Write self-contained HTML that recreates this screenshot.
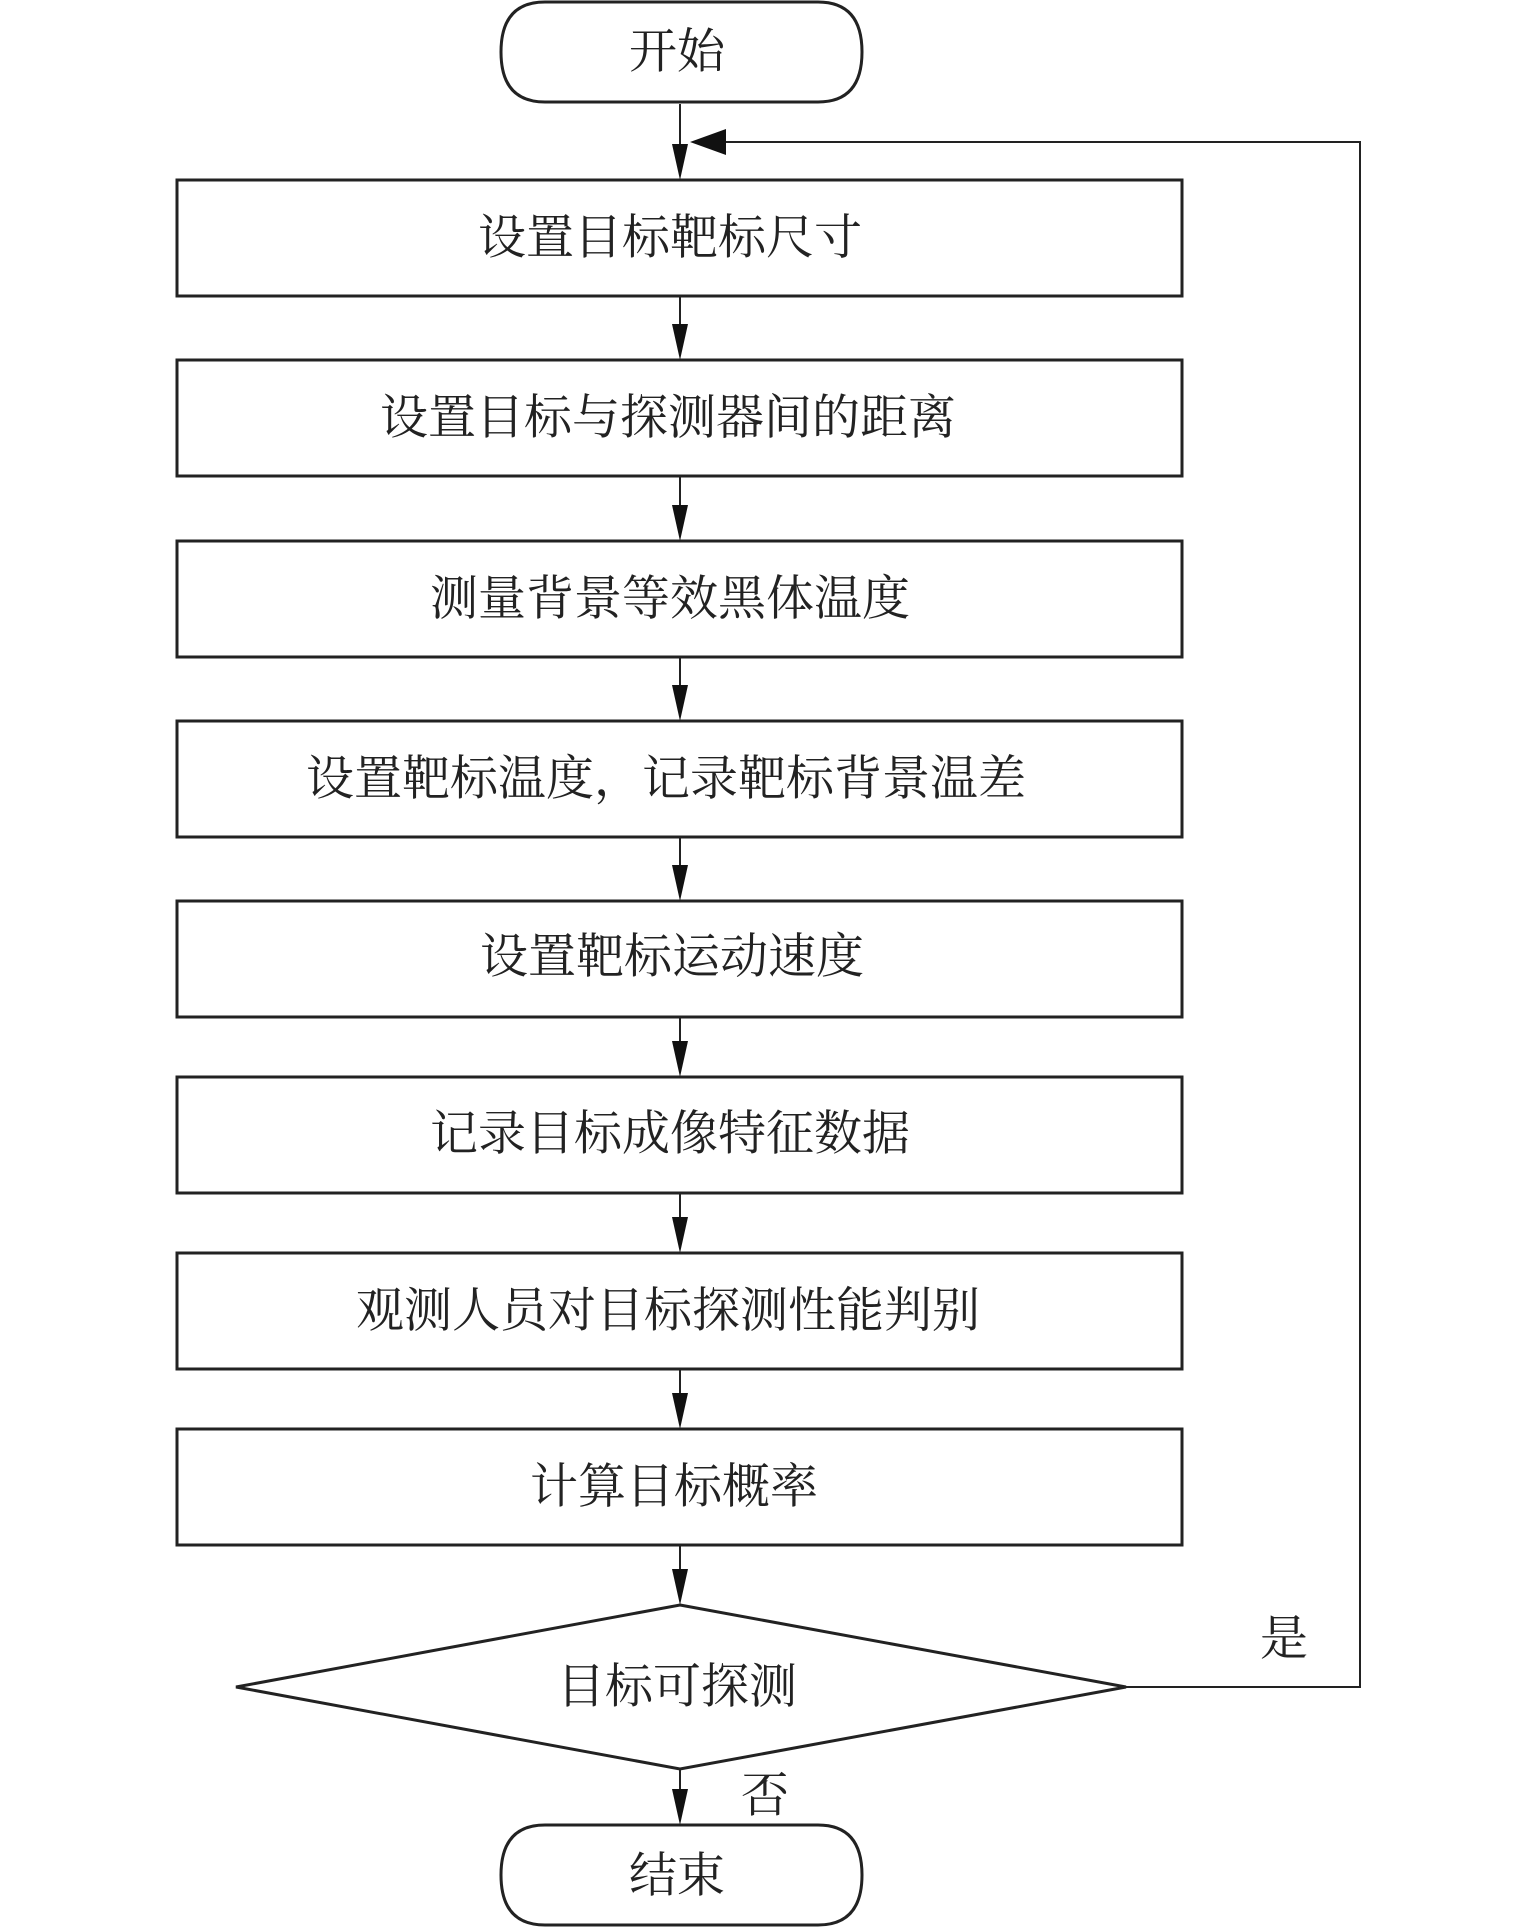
<!DOCTYPE html>
<html><head><meta charset="utf-8"><style>
html,body{margin:0;padding:0;background:#fff;}
svg{display:block;}
text{font-family:"Liberation Serif","Noto Serif CJK SC","Noto Sans CJK SC",serif;font-size:48px;fill:#222;text-anchor:middle;dominant-baseline:central;}
</style></head><body>
<svg width="1535" height="1927" viewBox="0 0 1535 1927" xmlns="http://www.w3.org/2000/svg">
<g stroke="#222" fill="none">
<path d="M545,2 H818 Q862,2 862,52 Q862,102 818,102 H545 Q501,102 501,52 Q501,2 545,2 Z" stroke-width="3"/>
<path d="M545,1825 H818 Q862,1825 862,1875 Q862,1925 818,1925 H545 Q501,1925 501,1875 Q501,1825 545,1825 Z" stroke-width="3"/>
<rect x="177" y="180" width="1005" height="116" stroke-width="3"/>
<rect x="177" y="360" width="1005" height="116" stroke-width="3"/>
<rect x="177" y="541" width="1005" height="116" stroke-width="3"/>
<rect x="177" y="721" width="1005" height="116" stroke-width="3"/>
<rect x="177" y="901" width="1005" height="116" stroke-width="3"/>
<rect x="177" y="1077" width="1005" height="116" stroke-width="3"/>
<rect x="177" y="1253" width="1005" height="116" stroke-width="3"/>
<rect x="177" y="1429" width="1005" height="116" stroke-width="3"/>
<polygon points="680,1605 1126,1687 680,1769 236,1687" stroke-width="3"/>
<g stroke-width="2">
<line x1="680" y1="104" x2="680" y2="160"/>
<line x1="680" y1="296" x2="680" y2="340"/>
<line x1="680" y1="476" x2="680" y2="521"/>
<line x1="680" y1="657" x2="680" y2="701"/>
<line x1="680" y1="837" x2="680" y2="881"/>
<line x1="680" y1="1017" x2="680" y2="1057"/>
<line x1="680" y1="1193" x2="680" y2="1233"/>
<line x1="680" y1="1369" x2="680" y2="1409"/>
<line x1="680" y1="1545" x2="680" y2="1585"/>
<line x1="680" y1="1769" x2="680" y2="1805"/>
<polyline points="1126,1687 1360,1687 1360,142 710,142"/>
</g>
</g>
<g fill="#111">
<polygon points="672,144 688,144 680,180"/>
<polygon points="672,324 688,324 680,360"/>
<polygon points="672,505 688,505 680,541"/>
<polygon points="672,685 688,685 680,721"/>
<polygon points="672,865 688,865 680,901"/>
<polygon points="672,1041 688,1041 680,1077"/>
<polygon points="672,1217 688,1217 680,1253"/>
<polygon points="672,1393 688,1393 680,1429"/>
<polygon points="672,1569 688,1569 680,1605"/>
<polygon points="672,1789 688,1789 680,1825"/>
<polygon points="726,129 726,155 690,142"/>
</g>
<text x="677" y="52">开始</text>
<text x="670" y="238">设置目标靶标尺寸</text>
<text x="668" y="418">设置目标与探测器间的距离</text>
<text x="670" y="599">测量背景等效黑体温度</text>
<text x="666" y="779">设置靶标温度，记录靶标背景温差</text>
<text x="672" y="957">设置靶标运动速度</text>
<text x="670" y="1134">记录目标成像特征数据</text>
<text x="668" y="1311">观测人员对目标探测性能判别</text>
<text x="674" y="1487">计算目标概率</text>
<text x="677" y="1687">目标可探测</text>
<text x="1284" y="1639">是</text>
<text x="765" y="1796">否</text>
<text x="677" y="1876">结束</text>
</svg>
</body></html>
